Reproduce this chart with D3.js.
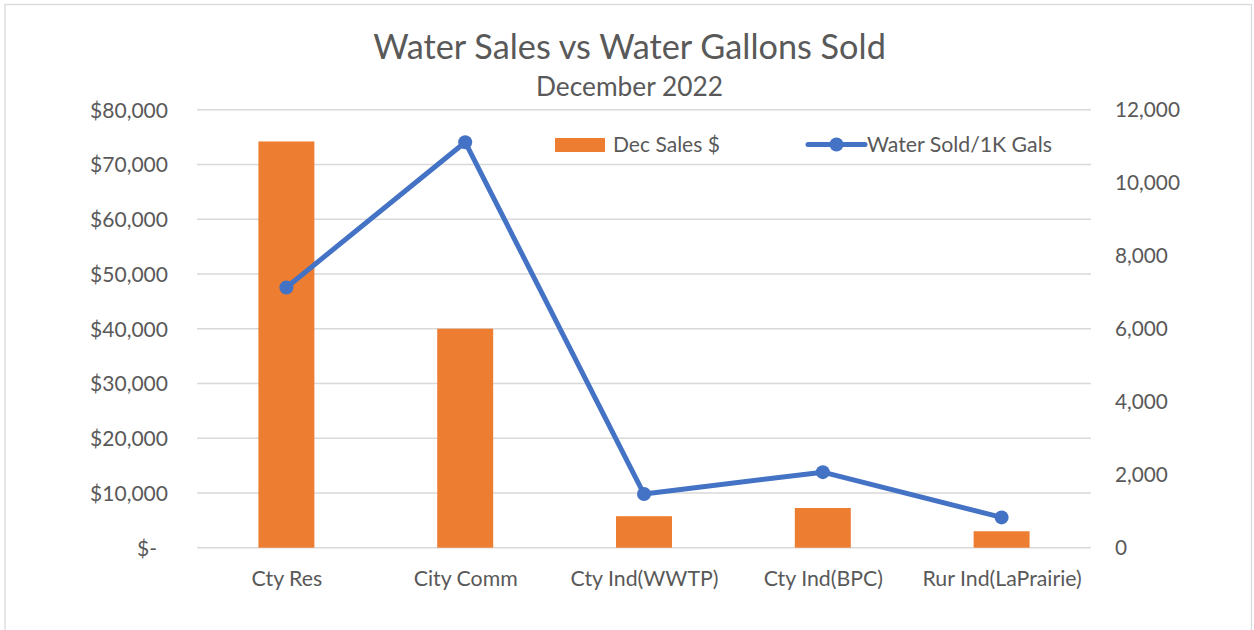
<!DOCTYPE html>
<html><head><meta charset="utf-8">
<script src="https://cdn.jsdelivr.net/npm/d3@7"></script>
<style>html,body{margin:0;padding:0;background:#fff;}svg{display:block;}</style>
</head><body>
<svg id="c" width="1254" height="630"></svg>
<script>
const categories = ["Cty Res", "City Comm", "Cty Ind(WWTP)", "Cty Ind(BPC)", "Rur Ind(LaPrairie)"];
const salesValues = [74200, 40000, 5750, 7250, 3000];
const gallonsValues = [7130, 11110, 1470, 2070, 830];
const leftTicks = [0, 10000, 20000, 30000, 40000, 50000, 60000, 70000, 80000];
const rightTicks = [0, 2000, 4000, 6000, 8000, 10000, 12000];
const seriesNames = ["Dec Sales $", "Water Sold/1K Gals"];
const titleText = "Water Sales vs Water Gallons Sold";
const subtitleText = "December 2022";

const FONT = "Lato, 'Open Sans', sans-serif";
const TXT = "#595959";
const ORANGE = "#ED7D31", BLUE = "#4472C4", GRID = "#D9D9D9";

const svg = d3.select("#c");
const L = 197, R = 1091, T = 109.7, B = 547.7;

svg.append("rect").attr("x", 5).attr("y", 4.5).attr("width", 1246.5).attr("height", 640)
  .attr("fill", "#fff").attr("stroke", "#D9D9D9").attr("stroke-width", 1.3);

const x = d3.scaleBand().domain(categories).range([L, R]).paddingInner(0.687).paddingOuter(0.3435);
const xc = d3.scalePoint().domain(categories).range([L, R]).padding(0.5);
const yL = d3.scaleLinear().domain([0, 80000]).range([B, T]);
const yR = d3.scaleLinear().domain([0, 12000]).range([B, T]);

function fit(sel, target) {
  let fs = parseFloat(sel.attr("font-size"));
  const w = sel.node().getComputedTextLength();
  if (w > 0) sel.attr("font-size", fs * target / w);
  return sel;
}

// gridlines
svg.append("g").selectAll("line").data(leftTicks).join("line")
  .attr("x1", L).attr("x2", R).attr("y1", d => yL(d)).attr("y2", d => yL(d))
  .attr("stroke", GRID).attr("stroke-width", 1.5);

// left axis
const fmtL = d => d === 0 ? "$-" : "$" + d3.format(",")(d);
const gL = svg.append("g").attr("transform", `translate(${168},0)`)
  .call(d3.axisLeft(yL).tickValues(leftTicks).tickFormat(fmtL).tickSize(0).tickPadding(0));
gL.select(".domain").remove();
gL.selectAll("text").attr("font-family", FONT).attr("font-size", 19).attr("fill", TXT)
  .attr("dy", "0.35em").attr("x", d => d === 0 ? -11 : 0);
{
  const t = gL.selectAll("text").filter(d => d === 80000);
  const w = t.node().getComputedTextLength();
  const fs = 19 * 78 / w;
  gL.selectAll("text").attr("font-size", fs);
}

// right axis
const gR = svg.append("g").attr("transform", `translate(${1115},0)`)
  .call(d3.axisRight(yR).tickValues(rightTicks).tickFormat(d3.format(",")).tickSize(0).tickPadding(0));
gR.select(".domain").remove();
gR.selectAll("text").attr("font-family", FONT).attr("font-size", 19).attr("fill", TXT).attr("dy", "0.35em");
{
  const t = gR.selectAll("text").filter(d => d === 12000);
  const w = t.node().getComputedTextLength();
  const fs = 19 * 65 / w;
  gR.selectAll("text").attr("font-size", fs);
}

// bars
svg.append("g").selectAll("rect").data(categories).join("rect")
  .attr("x", d => x(d)).attr("width", x.bandwidth())
  .attr("y", (d, i) => yL(salesValues[i])).attr("height", (d, i) => B - yL(salesValues[i]))
  .attr("fill", ORANGE);

// bottom axis labels
const gB = svg.append("g").attr("transform", `translate(0,${B})`)
  .call(d3.axisBottom(xc).tickSize(0).tickPadding(0));
gB.select(".domain").remove();
gB.selectAll("text").attr("font-family", FONT).attr("font-size", 19).attr("fill", TXT)
  .attr("y", 38).attr("dy", 0);
{
  const t = gB.selectAll("text").filter(d => d === "Cty Ind(WWTP)");
  const w = t.node().getComputedTextLength();
  const fs = 19 * 148 / w;
  gB.selectAll("text").attr("font-size", fs);
}

// line
const line = d3.line().x((d, i) => xc(categories[i])).y(d => yR(d));
svg.append("path").datum(gallonsValues).attr("d", line)
  .attr("fill", "none").attr("stroke", BLUE).attr("stroke-width", 5).attr("stroke-linejoin", "round");
svg.append("g").selectAll("circle").data(gallonsValues).join("circle")
  .attr("cx", (d, i) => xc(categories[i])).attr("cy", d => yR(d)).attr("r", 7).attr("fill", BLUE);

// title
const title = svg.append("text").attr("x", 629.5).attr("y", 59).attr("text-anchor", "middle")
  .attr("font-family", FONT).attr("font-size", 30).attr("fill", TXT).text(titleText);
fit(title, 513);
const sub = svg.append("text").attr("x", 629.5).attr("y", 96).attr("text-anchor", "middle")
  .attr("font-family", FONT).attr("font-size", 22).attr("fill", TXT).text(subtitleText);
fit(sub, 187);

// legend
const lg = svg.append("g");
lg.append("rect").attr("x", 555).attr("y", 138).attr("width", 50).attr("height", 14).attr("fill", ORANGE);
const lt1 = lg.append("text").attr("x", 613).attr("y", 151.5).attr("font-family", FONT).attr("font-size", 19)
  .attr("fill", TXT).text(seriesNames[0]);
fit(lt1, 107);
lg.append("line").attr("x1", 808).attr("x2", 865).attr("y1", 144.5).attr("y2", 144.5)
  .attr("stroke", BLUE).attr("stroke-width", 5).attr("stroke-linecap", "round");
lg.append("circle").attr("cx", 836.5).attr("cy", 144.5).attr("r", 7).attr("fill", BLUE);
const lt2 = lg.append("text").attr("x", 867).attr("y", 151.5).attr("font-family", FONT).attr("font-size", 19)
  .attr("fill", TXT).text(seriesNames[1]);
fit(lt2, 185);
</script>
</body></html>
